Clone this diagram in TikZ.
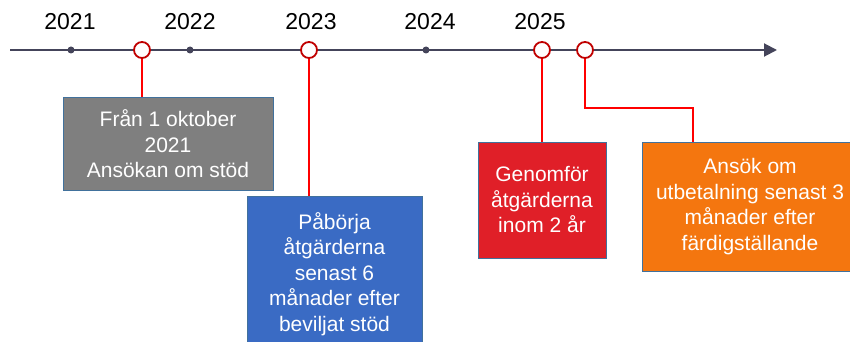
\documentclass[tikz,border=0pt]{standalone}
\usepackage{fontspec}
\setmainfont{Liberation Sans}
\usetikzlibrary{arrows.meta}
\definecolor{axisc}{HTML}{44445A}
\definecolor{ringc}{HTML}{C00000}
\definecolor{linkc}{HTML}{FF0000}
\definecolor{edgec}{HTML}{41719C}
\definecolor{grayf}{HTML}{7F7F7F}
\definecolor{bluef}{HTML}{3A6BC4}
\definecolor{redf}{HTML}{E01F28}
\definecolor{orangef}{HTML}{F4760F}
\tikzset{
  yearlbl/.style={font=\fontsize{23}{27}\selectfont, text=black, inner sep=0pt},
  tick/.style={circle, fill=axisc, inner sep=0pt, minimum size=7pt},
  ring/.style={circle, draw=ringc, fill=white, line width=1.8pt, inner sep=0pt, minimum size=16pt},
  link/.style={draw=linkc, line width=1.6pt},
  infobox/.style={draw=edgec, line width=1pt, text=white, align=center, inner sep=0pt,
    font=\fontsize{21}{25.5}\selectfont}
}
\begin{document}
\begin{tikzpicture}[x=1pt,y=-1pt]
\useasboundingbox (0,0) rectangle (850,342);
\clip (0,0) rectangle (850,342);
% axis
\coordinate (axstart) at (10,50);
\coordinate (axend) at (777,50);
\draw[axisc, line width=2pt, -{Triangle[length=13pt,width=13pt]}] (axstart) -- (axend);
% ticks
\node[tick] (t21) at (71,50) {};
\node[tick] (t22) at (190,50) {};
\node[tick] (t24) at (426,50) {};
% year labels
\node[yearlbl] (y21) at (70,22) {2021};
\node[yearlbl] (y22) at (190,22) {2022};
\node[yearlbl] (y23) at (311,22) {2023};
\node[yearlbl] (y24) at (430,22) {2024};
\node[yearlbl] (y25) at (540,22) {2025};
% boxes
\node[infobox, fill=grayf, minimum width=210pt, minimum height=92pt] (bgray) at (168,144)
  {Från 1 oktober\\2021\\Ansökan om stöd};
\node[infobox, fill=bluef, minimum width=175pt, minimum height=156pt] (bblue) at (334.5,274)
  {Påbörja\\åtgärderna\\senast 6\\månader efter\\beviljat stöd};
\node[infobox, fill=redf, minimum width=128pt, minimum height=116pt] (bred) at (542,200)
  {Genomför\\åtgärderna\\inom 2 år};
\node[infobox, fill=orangef, minimum width=216pt, minimum height=129pt] (borange) at (750,206.5)
  {Ansök om\\utbetalning senast 3\\månader efter\\färdigställande};
% connectors
\coordinate (k1) at (142,50);
\coordinate (k2) at (309,50);
\coordinate (k3) at (542,50);
\coordinate (k4) at (585,50);
\draw[link] (k1) -- (k1 |- bgray.north);
\draw[link] (k2) -- (k2 |- bblue.north);
\draw[link] (k3) -- (k3 |- bred.north);
\coordinate (bend) at (693,108);
\draw[link] (k4) |- (bend) -- (bend |- borange.north);
% rings
\node[ring] (r1) at (k1) {};
\node[ring] (r2) at (k2) {};
\node[ring] (r3) at (k3) {};
\node[ring] (r4) at (k4) {};
\end{tikzpicture}
\end{document}
